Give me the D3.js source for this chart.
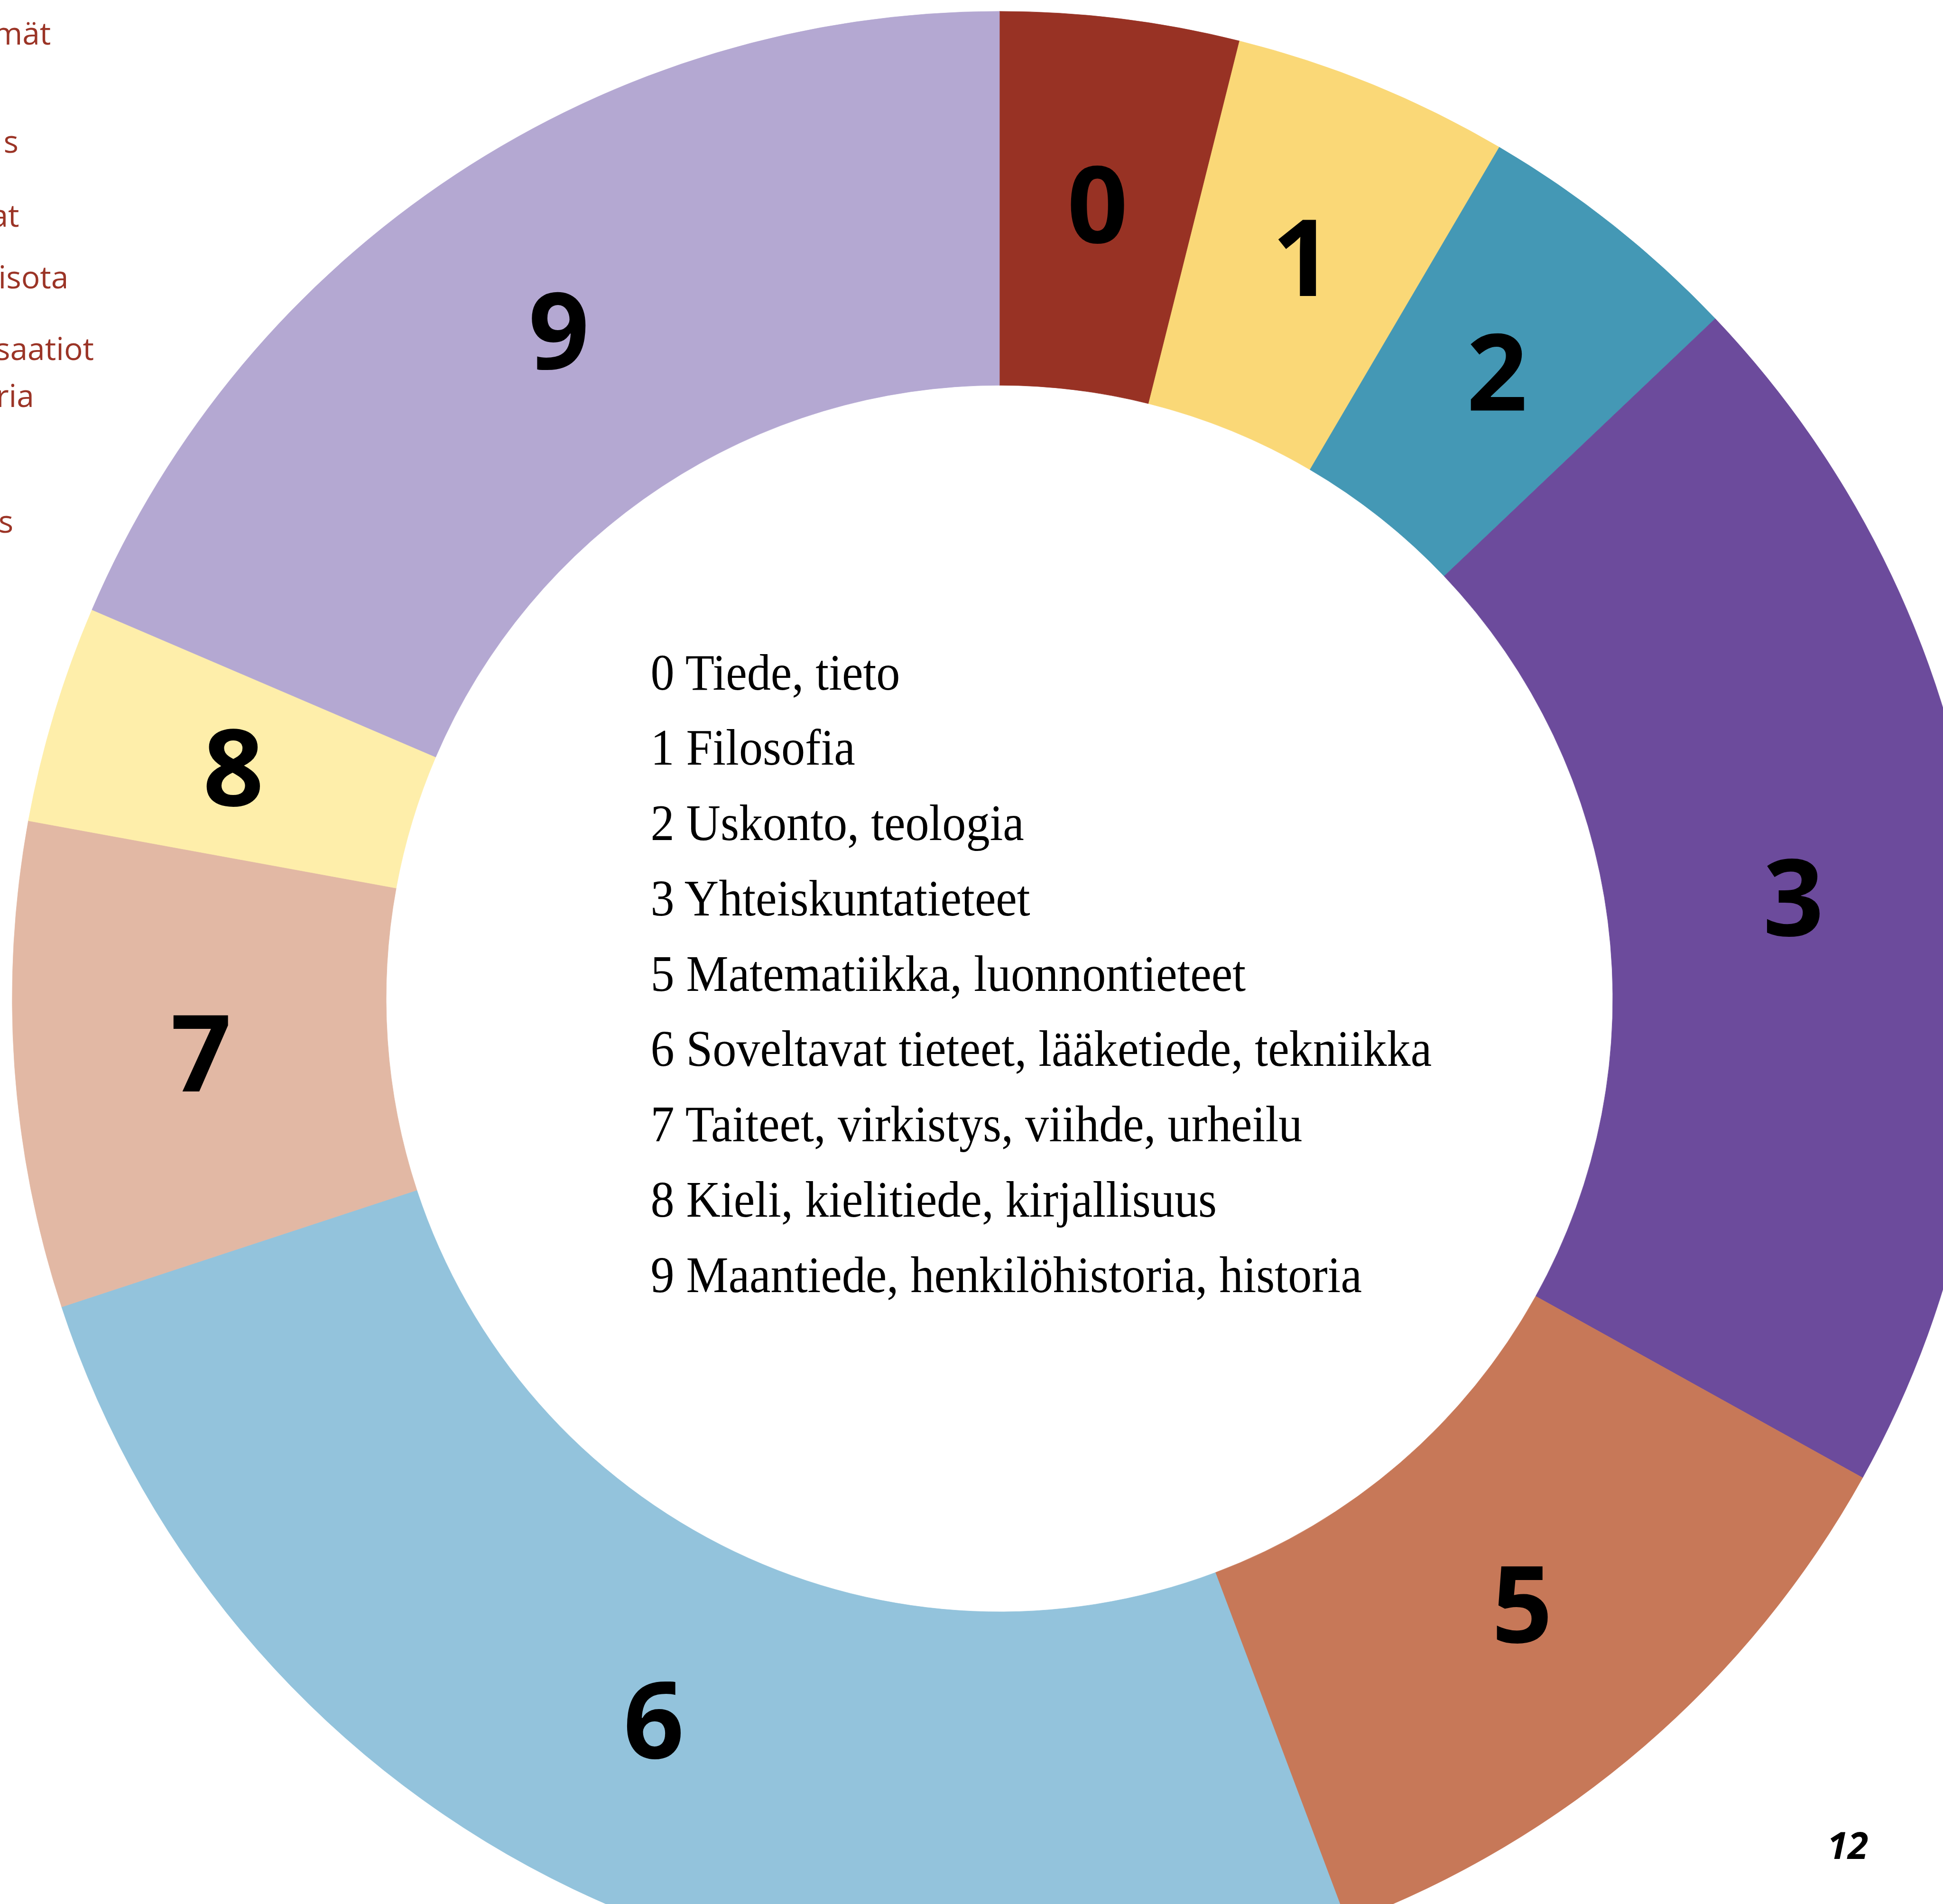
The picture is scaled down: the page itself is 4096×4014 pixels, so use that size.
<!DOCTYPE html>
<html>
<head>
<meta charset="utf-8">
<script src="https://cdn.jsdelivr.net/npm/d3@7"></script>
<style>
  html, body { margin: 0; padding: 0; background: #fff; overflow: hidden; }
</style>
</head>
<body>
<div id="chart"></div>
<script>
// classes (UDK main classes) and their share of the collection, percent
const classes = ['0', '1', '2', '3', '5', '6', '7', '8', '9'];
const shares = [3.91, 4.54, 4.46, 20.16, 11.21, 25.67, 7.94, 3.56, 18.56];
const colors = ['#983224', '#FAD877', '#4498B5', '#6C4B9C', '#C77858', '#93C3DC', '#E2B8A4', '#FEEEAA', '#B4A8D2'];
const legendNames = [
  'Tiede, tieto',
  'Filosofia',
  'Uskonto, teologia',
  'Yhteiskuntatieteet',
  'Matematiikka, luonnontieteet',
  'Soveltavat tieteet, lääketiede, tekniikka',
  'Taiteet, virkistys, viihde, urheilu',
  'Kieli, kielitiede, kirjallisuus',
  'Maantiede, henkilöhistoria, historia'
];
// bits of the previous page that show at the left edge
const pageFragments = ['mät', 's', 'at', 'risota', 'saatiot', 'ria', 's'];
const fragmentRight = [130, 47, 49, 175, 240, 87, 34];
const fragmentBaseline = [114, 391, 580, 737, 920, 1040, 1362];
const pageNumber = '12';

// work in reference pixels, the viewBox scales it to the window
const W = 4967, H = 4868;
const cx = 2555, cy = 2553;
const outerR = 2524, innerR = 1568;

const svg = d3.select('#chart')
  .append('svg')
  .attr('width', 4096)
  .attr('height', 4014)
  .attr('viewBox', `0 0 ${W} ${H}`);

const data = classes.map((c, i) => ({ cls: c, share: shares[i], color: colors[i], name: legendNames[i] }));

const pie = d3.pie()
  .sort(null)
  .value(d => d.share);

const arc = d3.arc()
  .innerRadius(innerR)
  .outerRadius(outerR);

const g = svg.append('g')
  .attr('transform', `translate(${cx},${cy})`);

const arcs = pie(data);

g.selectAll('path.slice')
  .data(arcs)
  .enter()
  .append('path')
  .attr('class', 'slice')
  .attr('d', arc)
  .attr('fill', d => d.data.color)
  .attr('stroke', d => d.data.color)
  .attr('stroke-width', 1);

// big class numbers in the ring
g.selectAll('text.num')
  .data(arcs)
  .enter()
  .append('text')
  .attr('class', 'num')
  .attr('transform', d => `translate(${arc.centroid(d)})`)
  .attr('text-anchor', 'middle')
  .attr('dy', '0.36em')
  .style('font-family', '"Open Sans", "Noto Sans", sans-serif')
  .style('font-weight', 700)
  .style('font-size', '272px')
  .attr('fill', '#000')
  .text(d => d.data.cls);

// legend in the hole
const legendX = 1663, legendY = 1763, legendStep = 192.5;
const legend = svg.append('g');

const rows = legend.selectAll('text')
  .data(data)
  .enter()
  .append('text')
  .attr('x', legendX)
  .attr('y', (d, i) => legendY + i * legendStep)
  .style('font-family', '"Liberation Serif", "DejaVu Serif", serif')
  .style('font-size', '132px')
  .attr('fill', '#000')
  .text(d => `${d.cls} ${d.name}`);

// the original face is narrower, squeeze to the same line width
const widest = d3.max(rows.nodes(), n => n.getComputedTextLength());
const squeeze = 1997 / widest;
rows.each(function () {
  const len = this.getComputedTextLength();
  d3.select(this)
    .attr('textLength', len * squeeze)
    .attr('lengthAdjust', 'spacingAndGlyphs');
});

// fragments of the facing page
svg.append('g')
  .selectAll('text')
  .data(pageFragments)
  .enter()
  .append('text')
  .attr('x', (d, i) => fragmentRight[i])
  .attr('y', (d, i) => fragmentBaseline[i])
  .attr('text-anchor', 'end')
  .style('font-family', '"Open Sans", "Noto Sans", sans-serif')
  .style('font-size', '80px')
  .attr('fill', '#9B3426')
  .text(d => d);

svg.append('text')
  .attr('x', 4776)
  .attr('y', 4753)
  .attr('text-anchor', 'end')
  .style('font-family', '"Open Sans", "Noto Sans", sans-serif')
  .style('font-weight', 700)
  .style('font-style', 'italic')
  .style('font-size', '95px')
  .attr('fill', '#000')
  .text(pageNumber);
</script>
</body>
</html>
